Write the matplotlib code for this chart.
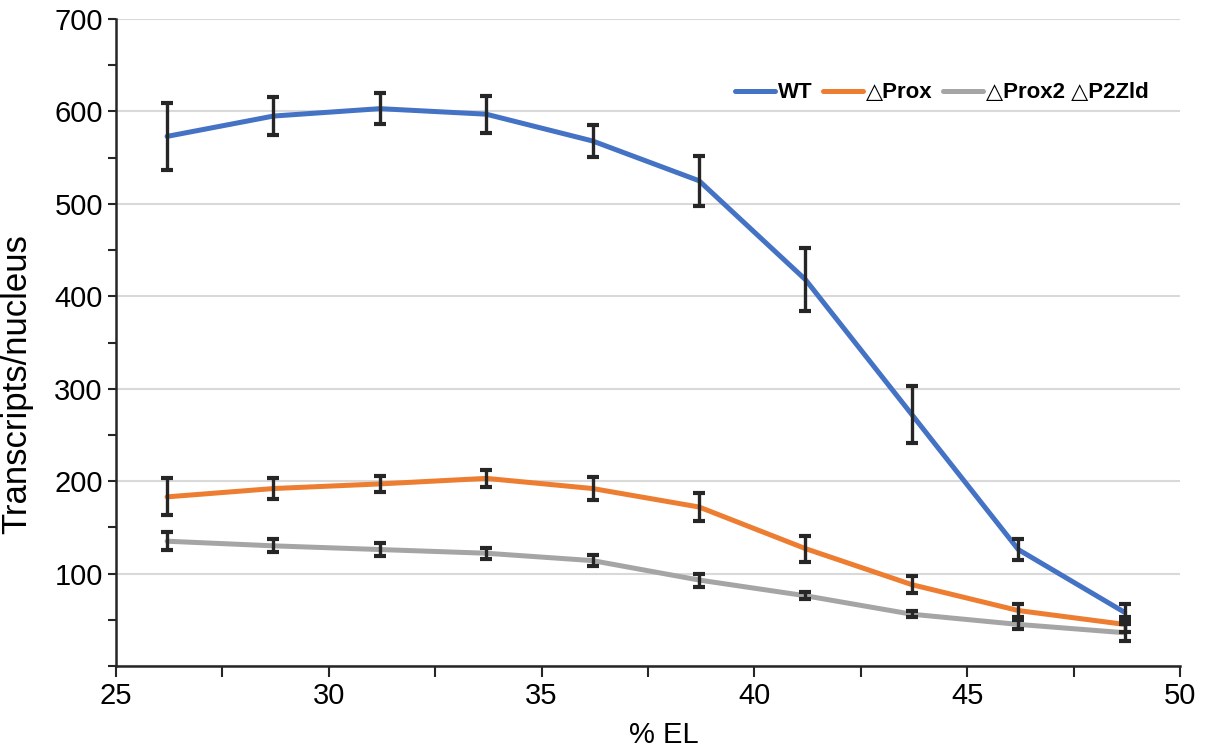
import matplotlib
matplotlib.use("Agg")
import matplotlib.pyplot as plt
from matplotlib.ticker import MultipleLocator, FuncFormatter

plt.rcParams['font.family'] = ['Liberation Sans', 'DejaVu Sans']

el = [26.2, 28.7, 31.2, 33.7, 36.2, 38.7, 41.2, 43.7, 46.2, 48.7]

wt = [573, 595, 603, 597, 568, 525, 418, 272, 126, 58]
wt_err = [36, 21, 17, 20, 17, 27, 34, 31, 11, 9]

prox = [183, 192, 197, 203, 192, 172, 127, 88, 60, 45]
prox_err = [20, 11, 9, 9, 12, 15, 14, 9, 7, 8]

p2zld = [135, 130, 126, 122, 114, 93, 76, 56, 45, 36]
p2zld_err = [10, 7, 7, 6, 6, 7, 4, 3, 5, 9]

labels = ['WT', '\u25b3Prox', '\u25b3Prox2 \u25b3P2Zld']
colors = ['#4472C4', '#ED7D31', '#A5A5A5']

fig = plt.figure(figsize=(12.06, 7.48), dpi=100)
ax = fig.add_axes([116/1206, 1 - 666/748, (1180-116)/1206, (666-19)/748])

for ys, errs, lab, col in zip([wt, prox, p2zld], [wt_err, prox_err, p2zld_err], labels, colors):
    ax.plot(el, ys, color=col, lw=3.6, label=lab, zorder=3, solid_capstyle='round')
    ax.errorbar(el, ys, yerr=errs, fmt='none', ecolor='#262626', elinewidth=2.4,
                capsize=4, capthick=3, zorder=4)

ax.set_xlim(25, 50)
ax.set_ylim(0, 700)
ax.xaxis.set_major_locator(MultipleLocator(5))
ax.xaxis.set_minor_locator(MultipleLocator(2.5))
ax.yaxis.set_major_locator(MultipleLocator(100))
ax.yaxis.set_minor_locator(MultipleLocator(50))
ax.yaxis.set_major_formatter(FuncFormatter(lambda v, p: '' if v == 0 else '%d' % v))

ax.grid(axis='y', which='major', color='#d9d9d9', lw=1.5, zorder=0)
ax.set_axisbelow(True)
for s in ['top', 'right']:
    ax.spines[s].set_visible(False)
for s in ['left', 'bottom']:
    ax.spines[s].set_color('#262626')
    ax.spines[s].set_linewidth(1.8)

ax.tick_params(axis='both', which='both', direction='out', color='#262626', width=1.5, labelsize=21)
ax.tick_params(axis='y', which='both', length=6)
ax.tick_params(axis='x', which='both', length=8)

ax.set_xlabel('% EL', fontsize=21)
ax.set_ylabel('Transcripts/nucleus', fontsize=25)
ax.xaxis.set_label_coords(0.515, -0.085)
ax.yaxis.set_label_coords(-0.078, 0.435)

leg = ax.legend(loc='upper right', bbox_to_anchor=(0.989, 0.933), ncol=3, frameon=False,
                handlelength=1.8, columnspacing=0.5, handletextpad=0.1,
                prop={'weight': 'bold', 'size': 16})

fig.savefig('out.png', dpi=100)
